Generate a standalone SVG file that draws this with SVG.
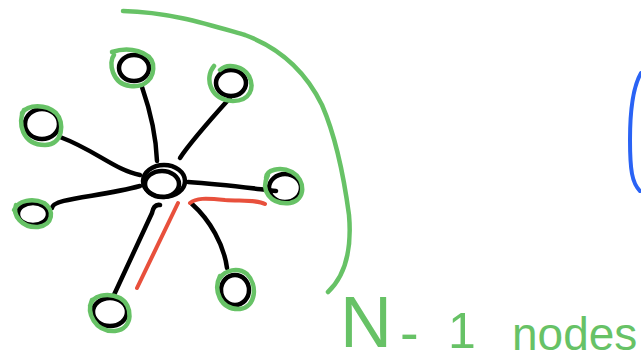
<svg xmlns="http://www.w3.org/2000/svg" width="641" height="363" viewBox="0 0 641 363">
<style>
.k{fill:none;stroke:#000;stroke-width:4.5;stroke-linecap:round;stroke-linejoin:round}
.g{fill:none;stroke:#67c266;stroke-width:4.5;stroke-linecap:round;stroke-linejoin:round}
.r{fill:none;stroke:#e8503c;stroke-width:4;stroke-linecap:round;stroke-linejoin:round}
.b{fill:none;stroke:#2a63f5;stroke-width:4;stroke-linecap:round}
.t{fill:#67c266;font-family:"Liberation Sans",Arial,sans-serif}
</style>
<rect width="641" height="363" fill="#fff"/>
<g id="connectors">
<path class="k" d="M142,87 C150,110 156,135 157,161"/>
<path class="k" d="M230,98 C212,118 192,140 180,158"/>
<path class="k" d="M60,137 C95,150 115,170 140,175"/>
<path class="k" d="M188,182 C220,184 250,188 276,191"/>
<path class="k" d="M52,208 C53,198 100,197 140,186"/>
<path class="k" d="M192,204 C210,220 224,245 227,268"/>
<path class="k" d="M160,205 C155,204 153,208 152,213 L113,297"/>
<path class="r" d="M178,203 L137,288"/>
<path class="r" d="M190,203 C196,198 205,198 225,200 C245,201 258,200 265,204"/>
</g>
<g id="hub">
<ellipse class="k" cx="164" cy="181" rx="21" ry="16"/>
<ellipse class="k" cx="162" cy="184" rx="17" ry="13" stroke-width="3"/>
</g>
<g id="n1"><ellipse class="k" cx="134" cy="68" rx="15" ry="13"/><path class="g" d="M114,55 C108,62 112,84 130,86 C145,88 155,78 153,64 C150,52 130,46 112,52"/></g>
<g id="n2"><ellipse class="k" cx="231" cy="83" rx="15" ry="13"/><path class="g" d="M214,66 C204,78 210,100 233,101 C250,101 255,88 249,76 C244,67 228,62 220,70"/></g>
<g id="n3"><ellipse class="k" cx="42" cy="124" rx="17" ry="15"/><path class="g" d="M24,110 C17,122 22,145 45,145 C63,145 65,122 56,113 C46,104 28,104 22,113"/></g>
<g id="n4"><ellipse class="k" cx="285" cy="188" rx="16" ry="14"/><path class="g" d="M268,175 C260,190 270,205 290,203 C306,200 306,180 292,172 C280,166 266,170 266,178"/></g>
<g id="n5"><ellipse class="k" cx="33" cy="214" rx="15" ry="11"/><path class="g" d="M16,205 C12,215 22,228 38,227 C53,225 55,210 44,203 C33,198 18,200 14,210"/></g>
<g id="n6"><ellipse class="k" cx="235" cy="290" rx="14" ry="15"/><path class="g" d="M220,276 C213,290 220,310 240,309 C256,307 258,285 247,274 C238,267 225,270 220,278"/></g>
<g id="n7"><ellipse class="k" cx="110" cy="312" rx="17" ry="14"/><path class="g" d="M92,300 C86,313 95,332 115,331 C134,329 133,305 120,298 C108,292 92,295 90,306"/></g>
<g id="bracket"><path class="g" d="M123,11 C170,12 210,25 245,35 C280,48 305,70 322,105 C335,135 343,170 349,215 C352,250 346,275 328,292"/></g>
<g id="blue"><path class="b" d="M641,73 C634,85 630,110 630,140 C630,170 632,183 640,191"/></g>
<text class="t" y="347"><tspan x="340" font-size="72">N</tspan><tspan x="400" y="352" font-size="56">-</tspan><tspan x="448" y="348" font-size="50">1</tspan><tspan x="512" y="350" font-size="46">nodes</tspan></text>
</svg>
